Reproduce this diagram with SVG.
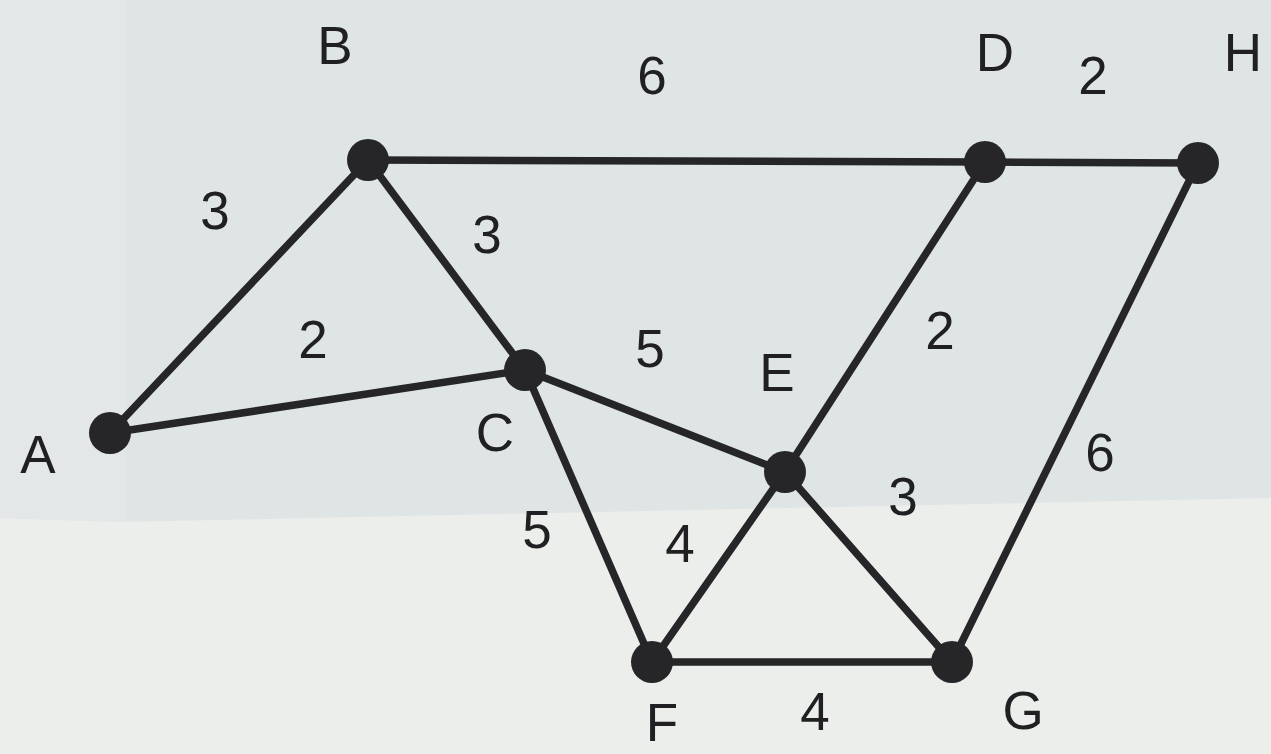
<svg xmlns="http://www.w3.org/2000/svg" width="1271" height="754" viewBox="0 0 1271 754">
<style>
.edge{stroke:#262628;stroke-width:7.5;stroke-linecap:round;fill:none}
.node{fill:#262628}
.lbl{font-family:"Liberation Sans",Arial,sans-serif;font-size:53px;fill:#202022;text-anchor:middle}
</style>
<rect x="0" y="0" width="1271" height="754" fill="#eceeec"/>
<polygon points="0,0 1271,0 1271,498 120,522 0,518" fill="#dfe5e5"/>
<polygon points="0,0 125,0 125,522 0,518" fill="#e3e7e7"/>
<g id="connectors">
<line class="edge" x1="368" y1="160" x2="985" y2="162"/>
<line class="edge" x1="985" y1="162" x2="1198" y2="163"/>
<line class="edge" x1="110" y1="433" x2="368" y2="160"/>
<line class="edge" x1="110" y1="433" x2="525" y2="370"/>
<line class="edge" x1="368" y1="160" x2="525" y2="370"/>
<line class="edge" x1="525" y1="370" x2="785" y2="472"/>
<line class="edge" x1="525" y1="370" x2="652" y2="662"/>
<line class="edge" x1="985" y1="162" x2="785" y2="472"/>
<line class="edge" x1="1198" y1="163" x2="952" y2="662"/>
<line class="edge" x1="785" y1="472" x2="652" y2="662"/>
<line class="edge" x1="785" y1="472" x2="952" y2="662"/>
<line class="edge" x1="652" y1="662" x2="952" y2="662"/>
</g>
<g id="node-A"><circle class="node" cx="110" cy="433" r="21"/><text class="lbl" x="38" y="473">A</text></g>
<g id="node-B"><circle class="node" cx="368" cy="160" r="21"/><text class="lbl" x="335" y="64">B</text></g>
<g id="node-C"><circle class="node" cx="525" cy="370" r="21"/><text class="lbl" x="495" y="451">C</text></g>
<g id="node-D"><circle class="node" cx="985" cy="162" r="21"/><text class="lbl" x="995" y="71">D</text></g>
<g id="node-E"><circle class="node" cx="785" cy="472" r="21"/><text class="lbl" x="777" y="391">E</text></g>
<g id="node-F"><circle class="node" cx="652" cy="662" r="21"/><text class="lbl" x="662" y="741">F</text></g>
<g id="node-G"><circle class="node" cx="952" cy="662" r="21"/><text class="lbl" x="1023" y="729">G</text></g>
<g id="node-H"><circle class="node" cx="1198" cy="163" r="21"/><text class="lbl" x="1243" y="71">H</text></g>
<g id="weights">
<text class="lbl" x="652" y="94">6</text>
<text class="lbl" x="1093" y="94">2</text>
<text class="lbl" x="215" y="229">3</text>
<text class="lbl" x="487" y="253">3</text>
<text class="lbl" x="313" y="358">2</text>
<text class="lbl" x="650" y="367">5</text>
<text class="lbl" x="940" y="349">2</text>
<text class="lbl" x="1100" y="471">6</text>
<text class="lbl" x="903" y="515">3</text>
<text class="lbl" x="537" y="548">5</text>
<text class="lbl" x="680" y="562">4</text>
<text class="lbl" x="815" y="730">4</text>
</g>
</svg>
